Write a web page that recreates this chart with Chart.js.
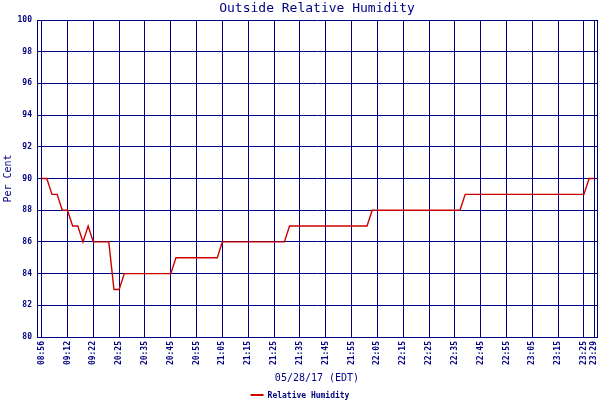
<!DOCTYPE html>
<html><head><meta charset="utf-8">
<script src="https://cdn.jsdelivr.net/npm/chart.js@4/dist/chart.umd.min.js"></script>
<style>html,body{margin:0;padding:0;background:#fff}</style>
</head><body><canvas id="c" width="600" height="400"></canvas>
<script>
// ---- data ----
const chartTitle = 'Outside Relative Humidity';
const seriesName = 'Relative Humidity';
const xAxisTitle = '05/28/17 (EDT)';
const yAxisTitle = 'Per Cent';
// sample positions (sample number) of the tick labels
const tickIndex = [0, 10, 20, 30, 40, 50, 60, 70, 80, 90, 100, 110, 120, 130, 140, 150, 160, 170, 180, 190, 200, 210, 214];
const tickLabels = ['08:56', '09:12', '09:22', '20:25', '20:35', '20:45', '20:55', '21:05', '21:15', '21:25', '21:35', '21:45', '21:55', '22:05', '22:15', '22:25', '22:35', '22:45', '22:55', '23:05', '23:15', '23:25', '23:29'];
// line vertices: sample number and relative humidity (%)
const sampleIdx = [0, 2, 4, 6, 8, 10, 12, 14, 16, 18, 20, 26, 28, 30, 32, 50, 52, 68, 70, 94, 96, 126, 128, 162, 164, 210, 212, 214];
const humidity  = [90, 90, 89, 89, 88, 88, 87, 87, 86, 87, 86, 86, 83, 83, 84, 84, 85, 85, 86, 86, 87, 87, 88, 88, 89, 89, 90, 90];
const yMin = 80, yMax = 100, yStep = 2;

// ---- styles ----
const NAVY = '#000080';
const RED = '#cc0000';
const MONO = '"DejaVu Sans Mono", "Liberation Mono", monospace';

const decor = {
  id: 'decor',
  afterDraw(chart) {
    const {ctx, chartArea: a} = chart;
    ctx.save();
    // right frame line
    ctx.strokeStyle = NAVY; ctx.lineWidth = 1;
    ctx.beginPath();
    ctx.moveTo(Math.round(a.right) + 0.5, Math.round(a.top));
    ctx.lineTo(Math.round(a.right) + 0.5, Math.round(a.bottom) + 1);
    ctx.stroke();
    // title
    ctx.fillStyle = NAVY;
    ctx.font = '13px ' + MONO;
    ctx.textAlign = 'center'; ctx.textBaseline = 'middle';
    ctx.fillText(chartTitle, (a.left + a.right) / 2, 9);
    // legend
    ctx.font = 'bold 8px ' + MONO;
    const label = chart.data.datasets[0].label;
    const w = ctx.measureText(label).width;
    const total = 13 + 4 + w;
    const x0 = chart.width / 2 - total / 2;
    ctx.strokeStyle = RED; ctx.lineWidth = 2;
    ctx.beginPath(); ctx.moveTo(x0, 395); ctx.lineTo(x0 + 13, 395); ctx.stroke();
    ctx.textAlign = 'left';
    ctx.fillText(label, x0 + 17, 395.5);
    ctx.restore();
  }
};

new Chart(document.getElementById('c'), {
  type: 'line',
  data: {
    datasets: [{
      label: seriesName,
      data: sampleIdx.map((x, i) => ({x: x, y: humidity[i]})),
      borderColor: RED,
      borderWidth: 1.4,
      pointRadius: 0,
      tension: 0,
      fill: false
    }]
  },
  options: {
    responsive: false,
    animation: false,
    devicePixelRatio: 1,
    layout: {padding: {top: 20, right: 3, left: 0, bottom: 0}},
    plugins: {legend: {display: false}, title: {display: false}, tooltip: {enabled: false}},
    scales: {
      x: {
        type: 'linear',
        min: -1.8,
        max: 215.05,
        afterBuildTicks: s => { s.ticks = tickIndex.map(v => ({value: v})); },
        afterFit: s => { s.height = 63; s.paddingLeft = 0; s.paddingRight = 0; },
        grid: {color: NAVY, lineWidth: 1, drawTicks: false},
        border: {color: NAVY, width: 1},
        ticks: {
          autoSkip: false, minRotation: 90, maxRotation: 90, padding: 4,
          color: NAVY, font: {family: MONO, size: 8, weight: 'bold'},
          callback: (v, i) => tickLabels[i]
        },
        title: {display: true, text: xAxisTitle, color: NAVY, font: {family: MONO, size: 10}, padding: {top: 0, bottom: 15.5}}
      },
      y: {
        min: yMin, max: yMax,
        afterFit: s => { s.width = 37; s.paddingTop = 0; s.paddingBottom = 0; },
        grid: {color: NAVY, lineWidth: 1, drawTicks: false},
        border: {color: NAVY, width: 1},
        ticks: {stepSize: yStep, padding: 5, color: NAVY, font: {family: MONO, size: 8, weight: 'bold'}},
        title: {display: true, text: yAxisTitle, color: NAVY, font: {family: MONO, size: 10}, padding: {top: 2, bottom: 0}}
      }
    }
  },
  plugins: [decor]
});
</script>
</body></html>
